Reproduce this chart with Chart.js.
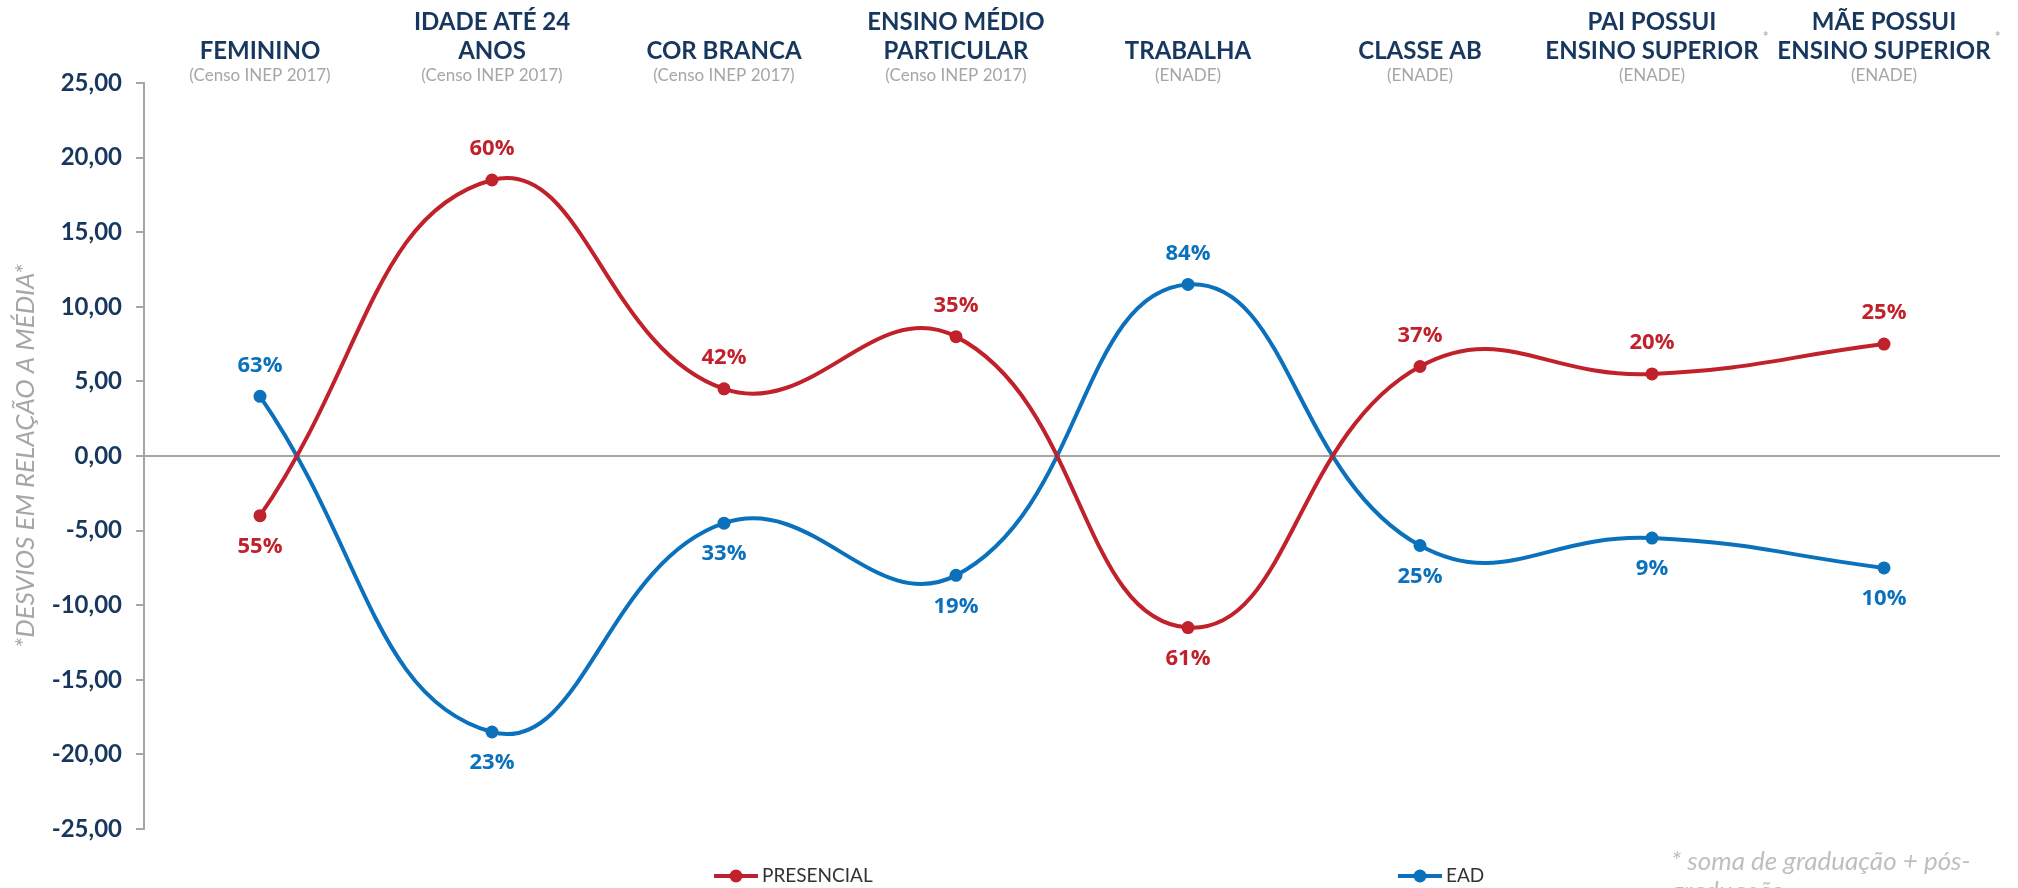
<!DOCTYPE html>
<html>
<head>
<meta charset="utf-8">
<script src="https://cdn.jsdelivr.net/npm/chart.js@4.4.0/dist/chart.umd.min.js"></script>
<style>
  html, body { margin: 0; padding: 0; background: #fff; overflow: hidden; }
  #wrap { width: 2018px; height: 888px; position: relative; }
</style>
</head>
<body>
<div id="wrap"><canvas id="chart" width="2018" height="888"></canvas></div>
<script>
// data
const categories = [
  ['FEMININO'],
  ['IDADE ATÉ 24', 'ANOS'],
  ['COR BRANCA'],
  ['ENSINO MÉDIO', 'PARTICULAR'],
  ['TRABALHA'],
  ['CLASSE AB'],
  ['PAI POSSUI', 'ENSINO SUPERIOR'],
  ['MÃE POSSUI', 'ENSINO SUPERIOR']
];
const sources = ['Censo INEP 2017', 'Censo INEP 2017', 'Censo INEP 2017', 'Censo INEP 2017',
  'ENADE', 'ENADE', 'ENADE', 'ENADE'];
const starred = [false, false, false, false, false, false, true, true];

const presencial = [-4, 18.5, 4.5, 8, -11.5, 6, 5.5, 7.5];
const ead = [4, -18.5, -4.5, -8, 11.5, -6, -5.5, -7.5];
const presencialPct = ['55%', '60%', '42%', '35%', '61%', '37%', '20%', '25%'];
const eadPct = ['63%', '23%', '33%', '19%', '84%', '25%', '9%', '10%'];

const yMin = -25, yMax = 25, yStep = 5;

const RED = '#C0212B';
const BLUE = '#0B71BD';
const NAVY = '#17375E';
const GREY = '#a6a6a6';

// headers above each category
const headerPlugin = {
  id: 'headers',
  afterDraw(chart) {
    const ctx = chart.ctx;
    const x = chart.scales.x;
    ctx.save();
    ctx.textAlign = 'center';
    ctx.textBaseline = 'middle';
    categories.forEach((lines, i) => {
      const cx = x.getPixelForValue(i);
      ctx.font = 'bold 24px Lato';
      ctx.fillStyle = NAVY;
      let y = 51;
      for (let k = lines.length - 1; k >= 0; k--) {
        ctx.fillText(lines[k], cx, y);
        if (k === lines.length - 1 && starred[i]) {
          const w = ctx.measureText(lines[k]).width;
          ctx.save();
          ctx.font = '15px Lato';
          ctx.fillStyle = GREY;
          ctx.fillText('*', cx + w / 2 + 7, 37);
          ctx.restore();
        }
        y -= 29;
      }
      ctx.font = '17px Lato';
      ctx.fillStyle = GREY;
      ctx.fillText('(' + sources[i] + ')', cx, 76);
    });
    ctx.restore();
  }
};

// percentage labels at each point
const pctPlugin = {
  id: 'pct',
  afterDatasetsDraw(chart) {
    const ctx = chart.ctx;
    const pcts = [presencialPct, eadPct];
    ctx.save();
    ctx.font = 'bold 22px "Open Sans"';
    ctx.textAlign = 'center';
    ctx.textBaseline = 'middle';
    chart.data.datasets.forEach((ds, d) => {
      const meta = chart.getDatasetMeta(d);
      meta.data.forEach((pt, i) => {
        const up = ds.data[i] >= 0;
        ctx.fillStyle = ds.borderColor;
        ctx.fillText(pcts[d][i], pt.x, pt.y + (up ? -31 : 31));
      });
    });
    ctx.restore();
  }
};

// legend at the bottom + footnote
const legendPlugin = {
  id: 'bottomLegend',
  afterDraw(chart) {
    const ctx = chart.ctx;
    const spots = [736, 1420];
    const y = 876;
    ctx.save();
    chart.data.datasets.forEach((ds, d) => {
      const cx = spots[d];
      ctx.strokeStyle = ds.borderColor;
      ctx.lineWidth = 4;
      ctx.beginPath();
      ctx.moveTo(cx - 22, y);
      ctx.lineTo(cx + 22, y);
      ctx.stroke();
      ctx.fillStyle = ds.borderColor;
      ctx.beginPath();
      ctx.arc(cx, y, 6.5, 0, Math.PI * 2);
      ctx.fill();
      ctx.fillStyle = '#333';
      ctx.font = '19px Lato';
      ctx.textAlign = 'left';
      ctx.textBaseline = 'middle';
      ctx.fillText(ds.label, cx + 26, y);
    });
    ctx.font = 'italic 26px Lato';
    ctx.fillStyle = '#bfbfbf';
    ctx.textAlign = 'left';
    ctx.textBaseline = 'alphabetic';
    ctx.fillText('* soma de graduação + pós-', 1671, 870);
    ctx.fillText('graduação', 1671, 900);
    ctx.restore();
  }
};

new Chart(document.getElementById('chart'), {
  type: 'line',
  data: {
    labels: categories,
    datasets: [{
      label: 'PRESENCIAL',
      data: presencial,
      borderColor: RED,
      backgroundColor: RED,
      pointBackgroundColor: RED,
      borderWidth: 4,
      pointRadius: 6.5,
      pointBorderWidth: 0,
      tension: 0.45,
      fill: false
    }, {
      label: 'EAD',
      data: ead,
      borderColor: BLUE,
      backgroundColor: BLUE,
      pointBackgroundColor: BLUE,
      borderWidth: 4,
      pointRadius: 6.5,
      pointBorderWidth: 0,
      tension: 0.45,
      fill: false
    }]
  },
  options: {
    responsive: false,
    animation: false,
    devicePixelRatio: 1,
    layout: {
      padding: { top: 83, bottom: 59, left: 0, right: 18 }
    },
    plugins: {
      legend: { display: false },
      tooltip: { enabled: false }
    },
    scales: {
      x: {
        type: 'category',
        offset: true,
        display: false
      },
      y: {
        min: yMin,
        max: yMax,
        afterFit(scale) { scale.width = 144; },
        ticks: {
          stepSize: yStep,
          padding: 14,
          color: NAVY,
          font: { family: 'Lato', weight: 'bold', size: 24 },
          callback: v => v.toFixed(2).replace('.', ',')
        },
        grid: {
          drawOnChartArea: true,
          color: c => (c.tick && c.tick.value === 0) ? GREY : 'transparent',
          lineWidth: 2,
          tickColor: GREY,
          tickLength: 8
        },
        border: { display: true, color: GREY, width: 2 },
        title: {
          display: true,
          text: '*DESVIOS EM RELAÇÃO A MÉDIA*',
          color: GREY,
          font: { family: 'Lato', style: 'italic', size: 26 },
          padding: { top: 10, bottom: 0 }
        }
      }
    }
  },
  plugins: [headerPlugin, pctPlugin, legendPlugin]
});
</script>
</body>
</html>
